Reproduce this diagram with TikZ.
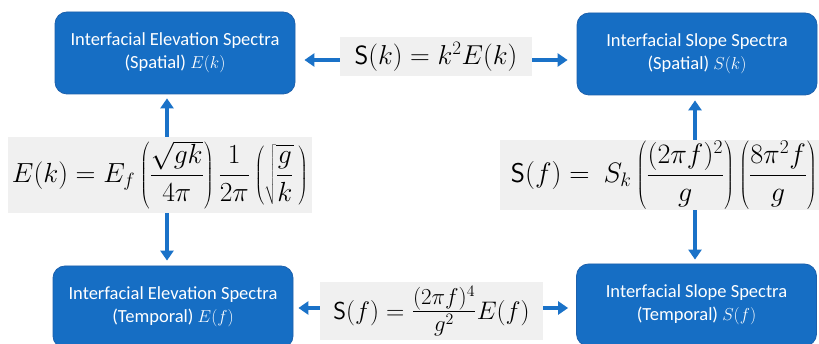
\documentclass[tikz,border=0pt]{standalone}
\usepackage{graphicx}
\usepackage{fontspec}
\setmainfont{Carlito}
\usetikzlibrary{arrows.meta}
\definecolor{boxblue}{RGB}{22,110,196}
\definecolor{boxedge}{RGB}{28,96,172}
\definecolor{arrowblue}{RGB}{26,114,200}
\definecolor{formgray}{RGB}{240,240,240}
\begin{document}
\begin{tikzpicture}[x=1pt,y=-1pt,
  spec/.style={draw=boxedge, line width=0.8pt, fill=boxblue, rounded corners=12pt,
    minimum width=240pt, minimum height=82pt, text=white, align=center,
    font=\fontsize{18.5}{23}\selectfont, inner sep=0pt},
  form/.style={fill=formgray, inner sep=0pt, font=\fontsize{24}{28}\selectfont},
  arr/.style={draw=arrowblue, line width=4pt, -{Triangle[width=13pt,length=10pt]}}]
\clip (0,0) rectangle (819,344);
\fill[white] (0,0) rectangle (819,344);
% boxes
\node[spec] (tl) at (175,53) {Interfacial Elevation Spectra\\(Spatial) $E(k)$};
\node[spec] (tr) at (697,54) {Interfacial Slope Spectra\\(Spatial) $S(k)$};
\node[spec] (bl) at (173,307) {Interfacial Elevation Spectra\\(Temporal) $E(f)$};
\node[spec] (br) at (696.5,305) {Interfacial Slope Spectra\\(Temporal) $S(f)$};
% formulas
\node[form, minimum width=192pt, minimum height=39pt] (ft) at (436,56.5)
  {\scalebox{1.1}{$\mathsf{S}(k) = k^2E(k)$}\hspace{16pt}};
\node[form, minimum width=304pt, minimum height=76pt] (fl) at (160,175)
  {\scalebox{1.11}{$\displaystyle E(k) = E_f\left(\frac{\sqrt{gk}}{4\pi}\right)\frac{1}{2\pi}\left(\sqrt{\frac{g}{k}}\,\right)$}};
\node[form, minimum width=328pt, minimum height=70pt] (fr) at (664,175)
  {\scalebox{1.13}{$\displaystyle \mathsf{S}(f) =\ S_k\left(\frac{(2\pi f)^2}{g}\right)\left(\frac{8\pi^2 f}{g}\right)$}\hspace{12pt}};
\node[form, minimum width=223pt, minimum height=58pt] (fb) at (431.5,311)
  {\scalebox{1.02}{$\mathsf{S}(f) = \scalebox{1.3}{$\frac{(2\pi f)^4}{g^2}$}E(f)$}\hspace{10pt}};
% arrows
\draw[arr, shorten >=9pt] ([yshift=-3.5pt]ft.west) -- ([yshift=-3.5pt]ft.west -| tl.east);
\draw[arr, shorten >=9pt] ([yshift=-3.5pt]ft.east) -- ([yshift=-3.5pt]ft.east -| tr.west);
\draw[arr, shorten >=4pt] ([xshift=7pt]fl.north) -- ([xshift=7pt]fl.north |- tl.south);
\draw[arr, shorten >=5pt] ([xshift=7pt]fl.south) -- ([xshift=7pt]fl.south |- bl.north);
\draw[arr, shorten >=5pt] ([xshift=31pt]fr.north) -- ([xshift=31pt]fr.north |- tr.south);
\draw[arr, shorten >=4pt] ([xshift=31pt]fr.south) -- ([xshift=31pt]fr.south |- br.north);
\draw[arr, shorten >=5pt] ([yshift=3pt]fb.west) -- ([yshift=3pt]fb.west -| bl.east);
\draw[arr, shorten >=8pt] ([yshift=3pt]fb.east) -- ([yshift=3pt]fb.east -| br.west);
\end{tikzpicture}
\end{document}
